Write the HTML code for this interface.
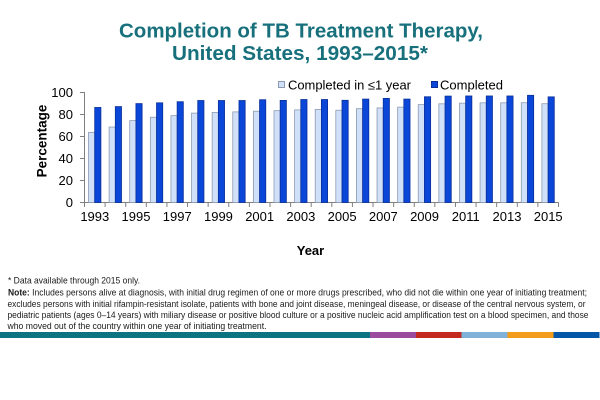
<!DOCTYPE html>
<html><head><meta charset="utf-8"><style>
html,body{margin:0;padding:0;background:#fff;width:600px;height:400px;overflow:hidden;}
svg{display:block;}
</style></head><body>
<svg width="600" height="400" viewBox="0 0 600 400" xmlns="http://www.w3.org/2000/svg" font-family="'Liberation Sans', sans-serif">
<rect width="600" height="400" fill="#fff"/>
<!-- Title -->
<text x="301" y="37.5" text-anchor="middle" font-size="20" font-weight="bold" fill="#17707c" textLength="364" lengthAdjust="spacingAndGlyphs">Completion of TB Treatment Therapy,</text>
<text x="300" y="60" text-anchor="middle" font-size="20" font-weight="bold" fill="#17707c" textLength="256" lengthAdjust="spacingAndGlyphs">United States, 1993–2015*</text>

<!-- Legend -->
<rect x="278.5" y="81.5" width="6" height="6" fill="#cfe0f8" stroke="#8d9ab0" stroke-width="1"/>
<text x="288" y="89.5" font-size="13" fill="#000" textLength="123" lengthAdjust="spacingAndGlyphs">Completed in ≤1 year</text>
<rect x="431.5" y="81.5" width="6" height="6" fill="#0a46d8" stroke="#0a2f99" stroke-width="1"/>
<text x="440" y="89.5" font-size="13" fill="#000" textLength="63" lengthAdjust="spacingAndGlyphs">Completed</text>

<!-- Axes -->
<g stroke="#7f7f7f" stroke-width="1" fill="none">
<line x1="84.5" y1="92" x2="84.5" y2="202.5"/>
<line x1="84" y1="202.5" x2="558.5" y2="202.5"/>
<line x1="80" y1="92.5" x2="84.5" y2="92.5"/>
<line x1="80" y1="114.5" x2="84.5" y2="114.5"/>
<line x1="80" y1="136.5" x2="84.5" y2="136.5"/>
<line x1="80" y1="158.5" x2="84.5" y2="158.5"/>
<line x1="80" y1="180.5" x2="84.5" y2="180.5"/>
<line x1="80" y1="202.5" x2="84.5" y2="202.5"/>
</g>
<g id="xticks" stroke="#7f7f7f" stroke-width="1"></g>
<g id="bars"></g>

<!-- Y labels -->
<g font-size="13" fill="#000" text-anchor="end">
<text x="73" y="97">100</text>
<text x="73" y="119">80</text>
<text x="73" y="141">60</text>
<text x="73" y="163">40</text>
<text x="73" y="185">20</text>
<text x="73" y="207">0</text>
</g>
<g id="xlabels" font-size="13" fill="#000" text-anchor="middle"></g>

<text transform="translate(46.5,141) rotate(-90)" text-anchor="middle" font-size="13.5" font-weight="bold" fill="#000">Percentage</text>
<text x="310.5" y="255" text-anchor="middle" font-size="13" font-weight="bold" fill="#000">Year</text>

<!-- Footnotes -->
<g font-size="9.3" fill="#1a1a1a">
<text x="8" y="283.5" textLength="132" lengthAdjust="spacingAndGlyphs">*  Data available through 2015 only.</text>
<text x="8" y="295.5" textLength="579" lengthAdjust="spacingAndGlyphs"><tspan font-weight="bold">Note:</tspan> Includes persons alive at diagnosis, with initial drug regimen of one or more drugs prescribed, who did not die within one year of initiating treatment;</text>
<text x="7.5" y="306.8" textLength="578" lengthAdjust="spacingAndGlyphs">excludes persons with initial rifampin-resistant isolate, patients with bone and joint disease, meningeal disease, or disease of the central nervous system, or</text>
<text x="7.5" y="318" textLength="581" lengthAdjust="spacingAndGlyphs">pediatric patients (ages 0–14 years) with miliary disease or positive blood culture or a positive nucleic acid amplification test on a blood specimen, and those</text>
<text x="7.5" y="329.2" textLength="259" lengthAdjust="spacingAndGlyphs">who moved out of the country within one year of initiating treatment.</text>
</g>

<!-- Bottom bar -->
<rect x="0" y="332" width="370" height="6" fill="#0b7480"/>
<rect x="370" y="332" width="46" height="6" fill="#9b4b9d"/>
<rect x="416" y="332" width="45.5" height="6" fill="#c3291d"/>
<rect x="461.5" y="332" width="46" height="6" fill="#80b1d8"/>
<rect x="507.5" y="332" width="46" height="6" fill="#f39c1a"/>
<rect x="553.5" y="332" width="46" height="6" fill="#0457a7"/>

<script>
(function(){
var ns="http://www.w3.org/2000/svg";
var light=[63.5,68.3,74.1,77.2,78.6,80.9,81.5,82.0,82.6,83.1,83.8,84.2,83.5,84.9,85.6,86.3,88.6,89.3,89.9,90.2,90.2,90.3,89.4];
var dark=[86,86.8,89.5,90.2,91.2,92.3,92.3,92.3,93,92.4,93.2,93.2,92.5,93.6,94.2,93.6,95.7,96.3,96.4,96.4,96.4,97,95.6];
var x0=84.5,cw=(558.5-84.5)/23,y0=202.5,k=1.105;
var bars=document.getElementById('bars'),ticks=document.getElementById('xticks'),labs=document.getElementById('xlabels');
function r(x,y,w,h,f,s){var e=document.createElementNS(ns,'rect');e.setAttribute('x',x);e.setAttribute('y',y);e.setAttribute('width',w);e.setAttribute('height',h);e.setAttribute('fill',f);e.setAttribute('stroke',s);e.setAttribute('stroke-width','0.8');bars.appendChild(e);}
for(var i=0;i<23;i++){
 var s=x0+i*cw;
 var hl=light[i]*k, hd=dark[i]*k;
 r(s+4,y0-hl,6.2,hl,'#cfe0f8','#8d9ab0');
 r(s+10.2,y0-hd,6.2,hd,'#0a46d8','#0a2f99');
 var t=document.createElementNS(ns,'line');t.setAttribute('x1',s);t.setAttribute('x2',s);t.setAttribute('y1',202.5);t.setAttribute('y2',207);ticks.appendChild(t);
 if(i%2==0){var tx=document.createElementNS(ns,'text');tx.setAttribute('x',s+cw/2);tx.setAttribute('y',221);tx.textContent=String(1993+i);labs.appendChild(tx);}
}
var t2=document.createElementNS(ns,'line');t2.setAttribute('x1',558.5);t2.setAttribute('x2',558.5);t2.setAttribute('y1',202.5);t2.setAttribute('y2',207);ticks.appendChild(t2);
})();
</script>
</svg>
</body></html>
